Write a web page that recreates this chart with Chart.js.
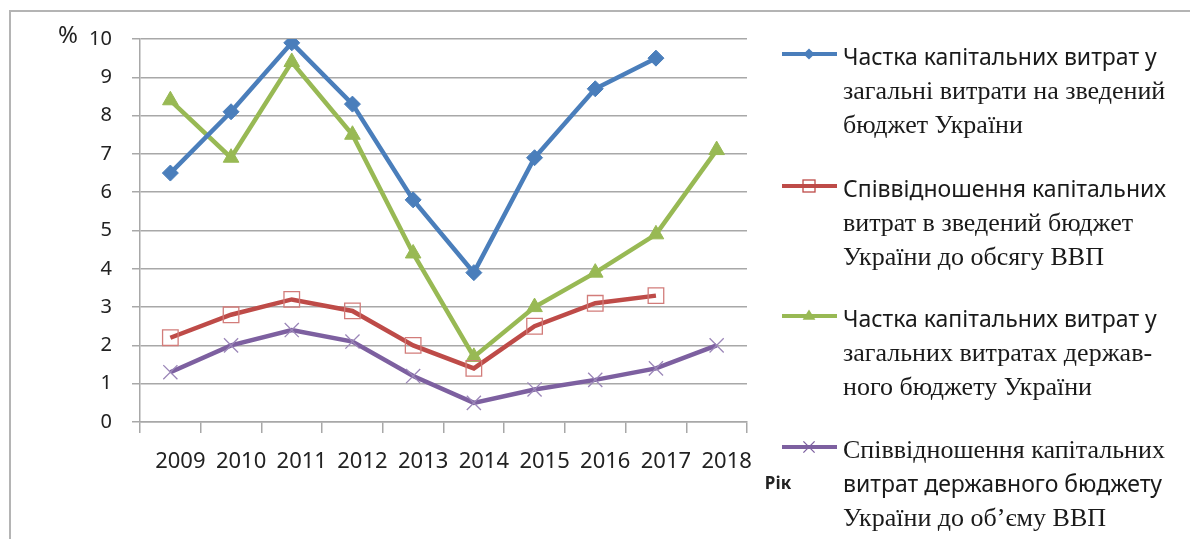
<!DOCTYPE html>
<html>
<head>
<meta charset="utf-8">
<script src="https://cdn.jsdelivr.net/npm/chart.js@4/dist/chart.umd.min.js"></script>
<style>
  html, body { margin: 0; padding: 0; background: #fff; }
  #wrap { width: 1190px; height: 539px; }
</style>
</head>
<body>
<div id="wrap"><canvas id="capChart" width="1190" height="539"></canvas></div>
<script>
// дані з графіка (%)
const years = ['2009', '2010', '2011', '2012', '2013', '2014', '2015', '2016', '2017', '2018'];
const shareConsolidated = [6.5, 8.1, 9.9, 8.3, 5.8, 3.9, 6.9, 8.7, 9.5, null];
const ratioConsolidatedGdp = [2.2, 2.8, 3.2, 2.9, 2.0, 1.4, 2.5, 3.1, 3.3, null];
const shareState = [8.4, 6.9, 9.4, 7.5, 4.4, 1.7, 3.0, 3.9, 4.9, 7.1];
const ratioStateGdp = [1.3, 2.0, 2.4, 2.1, 1.2, 0.5, 0.85, 1.1, 1.4, 2.0];
const yTicks = [0, 1, 2, 3, 4, 5, 6, 7, 8, 9, 10];

const seriesNames = [
    ['Частка капітальних витрат у', 'загальні витрати на зведений', 'бюджет України'],
    ['Співвідношення капітальних', 'витрат в зведений бюджет', 'України до обсягу ВВП'],
    ['Частка капітальних витрат у', 'загальних витратах держав-', 'ного бюджету України'],
    ['Співвідношення капітальних', 'витрат державного бюджету', 'України до об’єму ВВП']
];
// шрифт кожного рядка легенди (у оригіналі змішані)
const nameFaces = [
    ['sans', 'serif', 'serif'],
    ['sans', 'serif', 'serif'],
    ['sans', 'serif', 'serif'],
    ['serif', 'sans', 'serif']
];

const colors = ['#4a7ebb', '#be4b48', '#98b954', '#7d60a0'];
const gridColor = '#a8a8a8';
const SANS = '"Noto Sans", "Open Sans", sans-serif';
const SERIF = '"Liberation Serif", "DejaVu Serif", serif';

// рамка, підпис "%", "Рік" і легенда
const decorPlugin = {
    id: 'decor',
    beforeDraw(chart) {
        const ctx = chart.ctx;
        ctx.save();
        ctx.fillStyle = '#fff';
        ctx.fillRect(0, 0, chart.width, chart.height);
        ctx.strokeStyle = '#b4b4b4';
        ctx.lineWidth = 2;
        ctx.beginPath();
        ctx.moveTo(10, chart.height);
        ctx.lineTo(10, 11);
        ctx.lineTo(chart.width, 11);
        ctx.stroke();
        ctx.restore();
    },
    afterDraw(chart) {
        const ctx = chart.ctx;
        ctx.save();
        ctx.fillStyle = '#222';
        ctx.textBaseline = 'middle';
        ctx.textAlign = 'center';
        ctx.font = '24px ' + SANS;
        ctx.fillText('%', 68, 36);
        ctx.font = 'bold 17px ' + SANS;
        ctx.fillText('Рік', 778, 484);

        // легенда
        const markerY = [54, 186, 316, 447];
        chart.data.datasets.forEach(function(ds, i) {
            const y = markerY[i];
            ctx.strokeStyle = ds.borderColor;
            ctx.lineWidth = 4;
            ctx.beginPath();
            ctx.moveTo(782, y);
            ctx.lineTo(837, y);
            ctx.stroke();
            drawMarker(ctx, ds.pointStyle, 809, y, ds.borderColor, 0.8);

            ctx.textAlign = 'left';
            ctx.fillStyle = '#1a1a1a';
            seriesNames[i].forEach(function(line, j) {
                const face = nameFaces[i][j];
                ctx.font = face === 'sans' ? '23px ' + SANS : '26px ' + SERIF;
                ctx.fillText(line, 843, y + 4 + j * 34, 336);
            });
        });
        ctx.restore();
    }
};

function drawMarker(ctx, style, x, y, color, k) {
    ctx.save();
    ctx.strokeStyle = color;
    ctx.fillStyle = color;
    if (style === 'rectRot') {
        const r = 7 * k;
        ctx.beginPath();
        ctx.moveTo(x, y - r); ctx.lineTo(x + r, y); ctx.lineTo(x, y + r); ctx.lineTo(x - r, y);
        ctx.closePath();
        ctx.fill();
    } else if (style === 'rect') {
        const s = 7.5 * k;
        ctx.lineWidth = 1.3;
        ctx.strokeRect(x - s, y - s, 2 * s, 2 * s);
    } else if (style === 'triangle') {
        const r = 8 * k;
        ctx.beginPath();
        ctx.moveTo(x, y - r); ctx.lineTo(x + r, y + r * 0.6); ctx.lineTo(x - r, y + r * 0.6);
        ctx.closePath();
        ctx.fill();
    } else {
        const r = 7 * k;
        ctx.lineWidth = 1.3;
        ctx.beginPath();
        ctx.moveTo(x - r, y - r); ctx.lineTo(x + r, y + r);
        ctx.moveTo(x - r, y + r); ctx.lineTo(x + r, y - r);
        ctx.stroke();
    }
    ctx.restore();
}

document.addEventListener('DOMContentLoaded', function() {
    const ctx = document.getElementById('capChart').getContext('2d');

    const capChart = new Chart(ctx, {
        type: 'line',
        data: {
            labels: years,
            datasets: [
                {
                    label: seriesNames[0].join(' '),
                    data: shareConsolidated,
                    borderColor: colors[0],
                    backgroundColor: colors[0],
                    borderWidth: 4.5,
                    pointStyle: 'rectRot',
                    pointRadius: 8,
                    pointBorderWidth: 1
                },
                {
                    label: seriesNames[1].join(' '),
                    data: ratioConsolidatedGdp,
                    borderColor: colors[1],
                    backgroundColor: 'rgba(0,0,0,0)',
                    borderWidth: 4.5,
                    pointStyle: 'rect',
                    pointRadius: 11,
                    pointBorderWidth: 1.3,
                    pointBorderColor: '#d27c7a'
                },
                {
                    label: seriesNames[2].join(' '),
                    data: shareState,
                    borderColor: colors[2],
                    backgroundColor: colors[2],
                    borderWidth: 4.5,
                    pointStyle: 'triangle',
                    pointRadius: 9,
                    pointBorderWidth: 1
                },
                {
                    label: seriesNames[3].join(' '),
                    data: ratioStateGdp,
                    borderColor: colors[3],
                    backgroundColor: colors[3],
                    borderWidth: 4.5,
                    pointStyle: 'crossRot',
                    pointRadius: 10,
                    pointBorderWidth: 1.3,
                    pointBorderColor: '#9b86b8'
                }
            ]
        },
        options: {
            responsive: false,
            animation: false,
            spanGaps: false,
            layout: { padding: { left: 70, top: 39, right: 443, bottom: 0 } },
            plugins: {
                legend: { display: false },
                tooltip: { enabled: false }
            },
            scales: {
                x: {
                    type: 'category',
                    offset: true,
                    afterFit: function(scale) { scale.height = 117; },
                    grid: {
                        offset: true,
                        drawOnChartArea: false,
                        drawTicks: true,
                        tickLength: 11,
                        color: gridColor,
                        lineWidth: 1.5
                    },
                    border: { display: true, color: gridColor, width: 1.5 },
                    ticks: {
                        autoSkip: false,
                        maxRotation: 0,
                        padding: 16,
                        labelOffset: 10,
                        color: '#222',
                        font: { family: SANS, size: 22 }
                    }
                },
                y: {
                    min: 0,
                    max: 10,
                    afterFit: function(scale) { scale.width = 70; },
                    afterBuildTicks: function(scale) {
                        scale.ticks = yTicks.map(v => ({ value: v }));
                    },
                    grid: {
                        color: gridColor,
                        lineWidth: 1.5,
                        drawTicks: true,
                        tickLength: 8
                    },
                    border: { display: true, color: gridColor, width: 1.5 },
                    ticks: {
                        padding: 20,
                        color: '#222',
                        font: { family: SANS, size: 20 }
                    }
                }
            }
        },
        plugins: [decorPlugin]
    });
});
</script>
</body>
</html>
